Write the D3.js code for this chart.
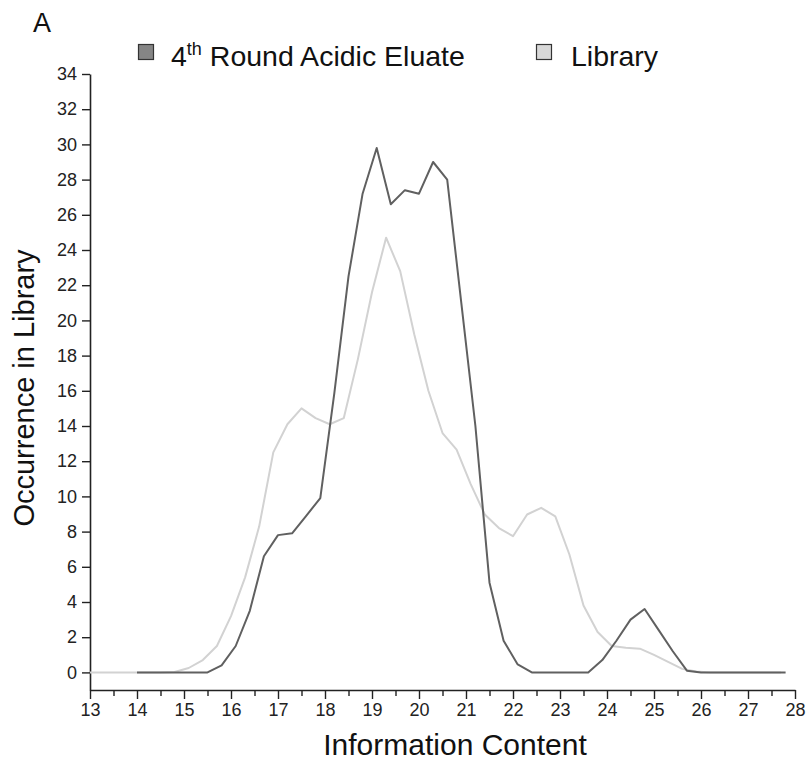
<!DOCTYPE html>
<html>
<head>
<meta charset="utf-8">
<script src="https://cdn.jsdelivr.net/npm/d3@7"></script>
<style>
  html, body { margin: 0; padding: 0; background: #fff; }
  svg { display: block; font-family: "Liberation Sans", Arial, sans-serif; }
</style>
</head>
<body>
<svg id="chart" width="810" height="761"></svg>
<script>
// ---- data ----
const eluateX = [14.0,14.3,14.6,14.9,15.2,15.5,15.8,16.1,16.4,16.7,17.0,17.3,17.6,17.9,18.2,18.5,18.8,19.1,19.4,19.7,
  20.0,20.3,20.6,20.9,21.2,21.5,21.8,22.1,22.4,22.7,23.0,23.3,23.6,23.9,24.2,24.5,24.8,25.1,25.4,25.7,
  26.0,26.3,26.6,26.9,27.2,27.5,27.8];
const eluateY = [0,0,0,0,0,0,0.4,1.5,3.5,6.6,7.8,7.9,8.9,9.9,15.9,22.5,27.2,29.8,26.6,27.4,
  27.2,29.0,28.0,21.0,14.0,5.1,1.8,0.45,0,0,0,0,0,0.7,1.8,3.0,3.6,2.4,1.2,0.1,
  0,0,0,0,0,0,0];
const libraryX = [13.0,13.3,13.6,13.9,14.2,14.5,14.8,15.1,15.4,15.7,16.0,16.3,16.6,16.9,17.2,17.5,17.8,18.1,18.4,18.7,
  19.0,19.3,19.6,19.9,20.2,20.5,20.8,21.1,21.4,21.7,22.0,22.3,22.6,22.9,23.2,23.5,23.8,24.1,24.4,24.7,
  25.0,25.3,25.6,25.9,26.2,26.5,26.8,27.1,27.4,27.7];
const libraryY = [0,0,0,0,0,0,0.02,0.25,0.7,1.5,3.2,5.4,8.3,12.5,14.1,15.0,14.45,14.1,14.45,17.8,
  21.6,24.7,22.8,19.2,16.0,13.6,12.66,10.7,8.97,8.2,7.74,8.97,9.35,8.87,6.7,3.8,2.3,1.5,1.4,1.35,
  1.0,0.6,0.2,0.05,0,0,0,0,0,0];
const yTickValues = [0,2,4,6,8,10,12,14,16,18,20,22,24,26,28,30,32,34];
const xTickValues = [13,14,15,16,17,18,19,20,21,22,23,24,25,26,27,28];
const xMinorTicks = [13.5,14.5,15.5,16.5,17.5,18.5,19.5,20.5,21.5,22.5,23.5,24.5,25.5,26.5,27.5];
const seriesNames = ["4th Round Acidic Eluate", "Library"];
const panelLabel = "A";
const xTitle = "Information Content";
const yTitle = "Occurrence in Library";

// ---- layout ----
const svg = d3.select("#chart");
const x = d3.scaleLinear().domain([13, 28]).range([90, 795]);
const y = d3.scaleLinear().domain([-1, 34]).range([690, 74]);

const darkColor = "#606060";
const lightColor = "#d2d2d2";

// axes
const yAxis = svg.append("g").attr("transform", "translate(90,0)")
  .call(d3.axisLeft(y).tickValues(yTickValues).tickSize(8).tickSizeOuter(0).tickPadding(5));
const xAxis = svg.append("g").attr("transform", "translate(0,690)")
  .call(d3.axisBottom(x).tickValues(xTickValues).tickSize(9).tickSizeOuter(0).tickPadding(4).tickFormat(d3.format("d")));
const xMinor = svg.append("g").attr("transform", "translate(0,690)")
  .call(d3.axisBottom(x).tickValues(xMinorTicks).tickSize(6).tickSizeOuter(0).tickFormat(""));
xMinor.select(".domain").remove();

[yAxis, xAxis, xMinor].forEach(g => {
  g.attr("font-size", null).attr("font-family", null);
  g.selectAll(".domain").attr("stroke", "#222").attr("stroke-width", 1.6);
  g.selectAll(".tick line").attr("stroke", "#222").attr("stroke-width", 1.4);
  g.selectAll(".tick text").attr("fill", "#222").attr("font-size", 18)
    .attr("font-family", "'Liberation Sans', Arial, sans-serif");
});

// lines
const lineGen = (xs) => d3.line().x((d, i) => x(xs[i])).y(d => y(d));
svg.append("path").datum(libraryY)
  .attr("d", lineGen(libraryX))
  .attr("fill", "none").attr("stroke", lightColor).attr("stroke-width", 2)
  .attr("stroke-linejoin", "round");
svg.append("path").datum(eluateY)
  .attr("d", lineGen(eluateX))
  .attr("fill", "none").attr("stroke", darkColor).attr("stroke-width", 2)
  .attr("stroke-linejoin", "round");

// titles
svg.append("text").attr("x", 455).attr("y", 755).attr("text-anchor", "middle")
  .style("font-size", "30px").attr("fill", "#111").text(xTitle);
svg.append("text").attr("transform", "translate(34,388) rotate(-90)").attr("text-anchor", "middle")
  .style("font-size", "29px").attr("fill", "#111").text(yTitle);
svg.append("text").attr("x", 33).attr("y", 32)
  .style("font-size", "27px").attr("fill", "#111").text(panelLabel);

// legend
const leg = svg.append("g");
leg.append("rect").attr("x", 138.5).attr("y", 44.5).attr("width", 15).attr("height", 15)
  .attr("fill", "#858585").attr("stroke", "#333").attr("stroke-width", 1.2);
const t1 = leg.append("text").attr("x", 171).attr("y", 66).style("font-size", "28.5px").attr("fill", "#111");
t1.append("tspan").text("4");
t1.append("tspan").attr("dy", -11).style("font-size", "18px").text("th");
t1.append("tspan").attr("dy", 11).text(seriesNames[0].replace(/^4th/, ""));
leg.append("rect").attr("x", 536.5).attr("y", 44.5).attr("width", 15).attr("height", 15)
  .attr("fill", "#d8d8d8").attr("stroke", "#333").attr("stroke-width", 1.2);
leg.append("text").attr("x", 571).attr("y", 66).style("font-size", "28.5px").attr("fill", "#111").text(seriesNames[1]);
</script>
</body>
</html>
